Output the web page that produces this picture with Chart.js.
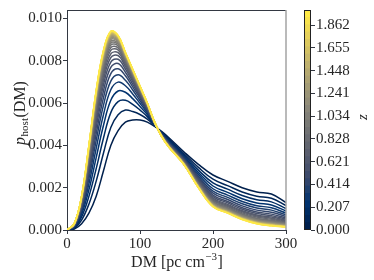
<!DOCTYPE html>
<html lang="en">
<head>
<meta charset="UTF-8">
<title>p_host(DM)</title>
<script src="https://cdn.jsdelivr.net/npm/chart.js"></script>
<style>
    body { margin: 0; background: #fff; }
    #wrap { position: relative; width: 374px; height: 280px; }
    #chart { position: absolute; left: 0; top: 0; }
    #cbar { position: absolute; left: 304px; top: 0; }
</style>
</head>
<body>
<div id="wrap">
    <canvas id="chart" width="374" height="280"></canvas>
    <canvas id="cbar" width="70" height="280"></canvas>
</div>
<script>
// DM grid (pc cm^-3) shared by every curve
const dmGrid = [0, 10, 20, 30, 40, 50, 60, 70, 80, 90, 100, 110, 120, 130, 140, 160, 180, 200, 220, 240, 260, 280, 300];

// redshift of each curve
const zValues = [0.000, 0.069, 0.138, 0.207, 0.276, 0.345, 0.414, 0.483, 0.552, 0.621,
                 0.690, 0.759, 0.828, 0.897, 0.966, 1.034, 1.103, 1.172, 1.241, 1.310,
                 1.379, 1.448, 1.517, 1.586, 1.655, 1.724, 1.793, 1.862, 1.931, 2.000];

// p_host(DM), one array per z
const p00 = [0, 0.00005, 0.0003, 0.0008, 0.0016, 0.0028, 0.0040, 0.0047, 0.0051, 0.0052, 0.0052, 0.0051, 0.0049, 0.00465, 0.00435, 0.0037, 0.0031, 0.0026, 0.0023, 0.0020, 0.0018, 0.0017, 0.0013];
const p01 = [0, 0.00008, 0.00047, 0.00122, 0.00231, 0.00364, 0.00485, 0.00545, 0.00567, 0.00560, 0.00546, 0.00524, 0.00493, 0.00461, 0.00429, 0.00362, 0.00296, 0.00240, 0.00210, 0.00180, 0.00160, 0.00150, 0.00115];
const p02 = [0, 0.00011, 0.00062, 0.00159, 0.00290, 0.00435, 0.00555, 0.00607, 0.00613, 0.00594, 0.00567, 0.00536, 0.00495, 0.00459, 0.00424, 0.00355, 0.00283, 0.00223, 0.00193, 0.00163, 0.00143, 0.00133, 0.00101];
const p03 = [0, 0.00014, 0.00075, 0.00190, 0.00342, 0.00495, 0.00613, 0.00657, 0.00651, 0.00621, 0.00584, 0.00546, 0.00497, 0.00456, 0.00419, 0.00349, 0.00272, 0.00208, 0.00178, 0.00148, 0.00128, 0.00118, 0.00090];
const p04 = [0, 0.00016, 0.00086, 0.00218, 0.00386, 0.00546, 0.00663, 0.00699, 0.00682, 0.00643, 0.00599, 0.00554, 0.00499, 0.00454, 0.00416, 0.00344, 0.00263, 0.00195, 0.00165, 0.00135, 0.00115, 0.00105, 0.00080];
const p05 = [0, 0.00018, 0.00096, 0.00243, 0.00424, 0.00590, 0.00704, 0.00734, 0.00708, 0.00662, 0.00611, 0.00561, 0.00500, 0.00452, 0.00412, 0.00340, 0.00254, 0.00184, 0.00154, 0.00124, 0.00104, 0.00094, 0.00071];
const p06 = [0, 0.00019, 0.00104, 0.00263, 0.00456, 0.00626, 0.00739, 0.00762, 0.00729, 0.00677, 0.00622, 0.00566, 0.00501, 0.00451, 0.00409, 0.00336, 0.00247, 0.00174, 0.00144, 0.00114, 0.00094, 0.00084, 0.00064];
const p07 = [0, 0.00021, 0.00112, 0.00282, 0.00485, 0.00658, 0.00769, 0.00787, 0.00746, 0.00690, 0.00630, 0.00572, 0.00503, 0.00449, 0.00407, 0.00332, 0.00241, 0.00165, 0.00135, 0.00105, 0.00085, 0.00075, 0.00057];
const p08 = [0, 0.00022, 0.00119, 0.00298, 0.00509, 0.00686, 0.00794, 0.00807, 0.00761, 0.00701, 0.00638, 0.00576, 0.00503, 0.00448, 0.00405, 0.00329, 0.00235, 0.00158, 0.00128, 0.00098, 0.00078, 0.00068, 0.00051];
const p09 = [0, 0.00023, 0.00124, 0.00312, 0.00530, 0.00709, 0.00815, 0.00824, 0.00773, 0.00710, 0.00644, 0.00579, 0.00505, 0.00447, 0.00402, 0.00327, 0.00230, 0.00151, 0.00121, 0.00091, 0.00071, 0.00061, 0.00046];
const p10 = [0, 0.00024, 0.00129, 0.00324, 0.00548, 0.00729, 0.00833, 0.00838, 0.00783, 0.00717, 0.00649, 0.00582, 0.00505, 0.00446, 0.00401, 0.00324, 0.00226, 0.00146, 0.00116, 0.00086, 0.00066, 0.00056, 0.00042];
const p11 = [0, 0.00025, 0.00133, 0.00334, 0.00564, 0.00746, 0.00849, 0.00851, 0.00792, 0.00724, 0.00654, 0.00585, 0.00506, 0.00445, 0.00399, 0.00322, 0.00223, 0.00141, 0.00111, 0.00081, 0.00061, 0.00051, 0.00038];
const p12 = [0, 0.00026, 0.00137, 0.00344, 0.00578, 0.00761, 0.00862, 0.00861, 0.00799, 0.00729, 0.00658, 0.00587, 0.00507, 0.00445, 0.00398, 0.00321, 0.00219, 0.00136, 0.00106, 0.00076, 0.00056, 0.00046, 0.00034];
const p13 = [0, 0.00026, 0.00140, 0.00352, 0.00590, 0.00774, 0.00874, 0.00870, 0.00806, 0.00734, 0.00661, 0.00589, 0.00507, 0.00444, 0.00397, 0.00319, 0.00217, 0.00133, 0.00103, 0.00073, 0.00053, 0.00043, 0.00032];
const p14 = [0, 0.00027, 0.00143, 0.00359, 0.00600, 0.00785, 0.00884, 0.00878, 0.00811, 0.00738, 0.00664, 0.00591, 0.00507, 0.00444, 0.00396, 0.00318, 0.00214, 0.00129, 0.00099, 0.00069, 0.00049, 0.00039, 0.00029];
const p15 = [0, 0.00027, 0.00146, 0.00365, 0.00609, 0.00795, 0.00892, 0.00884, 0.00816, 0.00741, 0.00666, 0.00592, 0.00508, 0.00442, 0.00394, 0.00317, 0.00212, 0.00127, 0.00097, 0.00067, 0.00047, 0.00037, 0.00027];
const p16 = [0, 0.00028, 0.00148, 0.00370, 0.00617, 0.00804, 0.00900, 0.00890, 0.00819, 0.00744, 0.00669, 0.00593, 0.00508, 0.00442, 0.00394, 0.00316, 0.00210, 0.00124, 0.00094, 0.00064, 0.00044, 0.00034, 0.00025];
const p17 = [0, 0.00028, 0.00150, 0.00375, 0.00623, 0.00811, 0.00906, 0.00895, 0.00823, 0.00747, 0.00670, 0.00594, 0.00508, 0.00442, 0.00393, 0.00315, 0.00209, 0.00122, 0.00092, 0.00062, 0.00042, 0.00032, 0.00023];
const p18 = [0, 0.00028, 0.00151, 0.00379, 0.00630, 0.00817, 0.00912, 0.00899, 0.00826, 0.00749, 0.00672, 0.00595, 0.00508, 0.00441, 0.00393, 0.00314, 0.00207, 0.00120, 0.00090, 0.00060, 0.00040, 0.00030, 0.00022];
const p19 = [0, 0.00029, 0.00153, 0.00382, 0.00635, 0.00823, 0.00917, 0.00903, 0.00828, 0.00751, 0.00673, 0.00596, 0.00508, 0.00441, 0.00392, 0.00313, 0.00206, 0.00118, 0.00088, 0.00058, 0.00038, 0.00028, 0.00020];
const p20 = [0, 0.00029, 0.00154, 0.00385, 0.00639, 0.00827, 0.00921, 0.00905, 0.00830, 0.00753, 0.00674, 0.00597, 0.00509, 0.00441, 0.00392, 0.00313, 0.00205, 0.00117, 0.00087, 0.00057, 0.00037, 0.00027, 0.00019];
const p21 = [0, 0.00029, 0.00155, 0.00388, 0.00643, 0.00831, 0.00924, 0.00908, 0.00832, 0.00754, 0.00675, 0.00597, 0.00509, 0.00441, 0.00392, 0.00312, 0.00204, 0.00116, 0.00086, 0.00056, 0.00036, 0.00026, 0.00018];
const p22 = [0, 0.00029, 0.00156, 0.00390, 0.00646, 0.00835, 0.00927, 0.00911, 0.00834, 0.00755, 0.00676, 0.00598, 0.00509, 0.00441, 0.00391, 0.00312, 0.00203, 0.00115, 0.00085, 0.00055, 0.00035, 0.00025, 0.00018];
const p23 = [0, 0.00029, 0.00157, 0.00392, 0.00649, 0.00838, 0.00930, 0.00912, 0.00835, 0.00756, 0.00677, 0.00598, 0.00509, 0.00440, 0.00391, 0.00311, 0.00203, 0.00114, 0.00084, 0.00054, 0.00034, 0.00024, 0.00017];
const p24 = [0, 0.00030, 0.00158, 0.00394, 0.00652, 0.00841, 0.00933, 0.00914, 0.00836, 0.00757, 0.00678, 0.00599, 0.00510, 0.00440, 0.00391, 0.00311, 0.00202, 0.00113, 0.00083, 0.00053, 0.00033, 0.00023, 0.00016];
const p25 = [0, 0.00030, 0.00158, 0.00396, 0.00654, 0.00843, 0.00934, 0.00916, 0.00837, 0.00758, 0.00678, 0.00599, 0.00510, 0.00440, 0.00391, 0.00311, 0.00202, 0.00112, 0.00082, 0.00052, 0.00032, 0.00022, 0.00016];
const p26 = [0, 0.00030, 0.00159, 0.00397, 0.00655, 0.00845, 0.00936, 0.00917, 0.00838, 0.00758, 0.00679, 0.00599, 0.00510, 0.00440, 0.00390, 0.00311, 0.00201, 0.00112, 0.00082, 0.00052, 0.00032, 0.00022, 0.00015];
const p27 = [0, 0.00030, 0.00159, 0.00398, 0.00657, 0.00847, 0.00938, 0.00918, 0.00839, 0.00759, 0.00679, 0.00600, 0.00510, 0.00440, 0.00390, 0.00310, 0.00201, 0.00111, 0.00081, 0.00051, 0.00031, 0.00021, 0.00015];
const p28 = [0, 0.00030, 0.00160, 0.00399, 0.00659, 0.00849, 0.00939, 0.00919, 0.00839, 0.00760, 0.00680, 0.00600, 0.00510, 0.00440, 0.00390, 0.00310, 0.00200, 0.00110, 0.00080, 0.00050, 0.00030, 0.00020, 0.00014];
const p29 = [0, 0.00030, 0.00160, 0.00400, 0.00660, 0.00850, 0.00940, 0.00920, 0.00840, 0.00760, 0.00680, 0.00600, 0.00510, 0.00440, 0.00390, 0.00310, 0.00200, 0.00110, 0.00080, 0.00050, 0.00030, 0.00020, 0.00014];

const curves = [p00, p01, p02, p03, p04, p05, p06, p07, p08, p09, p10, p11, p12, p13, p14,
                p15, p16, p17, p18, p19, p20, p21, p22, p23, p24, p25, p26, p27, p28, p29];

const xTicks = [0, 100, 200, 300];
const yTicks = [0, 0.002, 0.004, 0.006, 0.008, 0.010];
const zTicks = [0.000, 0.207, 0.414, 0.621, 0.828, 1.034, 1.241, 1.448, 1.655, 1.862];
const zMax = 2.0;

// cividis colormap
const cividisStops = ['#00204D', '#00336F', '#39486B', '#575C6D', '#707173',
                      '#8A8779', '#A69D75', '#C4B56C', '#E4CF5B', '#FFEA46'];
function hexRgb(h) {
    return [parseInt(h.slice(1, 3), 16), parseInt(h.slice(3, 5), 16), parseInt(h.slice(5, 7), 16)];
}
function cividis(t) {
    t = Math.min(1, Math.max(0, t));
    const s = t * (cividisStops.length - 1);
    const i = Math.min(Math.floor(s), cividisStops.length - 2);
    const f = s - i;
    const a = hexRgb(cividisStops[i]), b = hexRgb(cividisStops[i + 1]);
    const c = a.map((v, k) => Math.round(v + (b[k] - v) * f));
    return `rgb(${c[0]}, ${c[1]}, ${c[2]})`;
}

Chart.defaults.font.family = '"Liberation Serif", "Times New Roman", serif';
Chart.defaults.font.size = 15;
Chart.defaults.color = '#262626';

const SERIF = '"Liberation Serif", "Times New Roman", serif';
const AXIS = '#333842';

const datasets = curves.map((ys, i) => ({
    label: 'z = ' + zValues[i].toFixed(3),
    data: ys.map((y, k) => ({ x: dmGrid[k], y: y })),
    borderColor: cividis(zValues[i] / zMax),
    borderWidth: 1.5,
    pointRadius: 0,
    tension: 0.4,
    fill: false,
    order: curves.length - i
}));

const framePlugin = {
    id: 'frame',
    afterDraw(chart) {
        const { ctx, chartArea: a } = chart;
        ctx.save();
        ctx.lineWidth = 1;
        ctx.strokeStyle = AXIS;
        ctx.beginPath();
        ctx.moveTo(a.left, a.top + 0.5);
        ctx.lineTo(a.right, a.top + 0.5);
        ctx.stroke();
        ctx.strokeStyle = '#a3a3a3';
        ctx.lineWidth = 1.5;
        ctx.beginPath();
        ctx.moveTo(a.right, a.top);
        ctx.lineTo(a.right, a.bottom);
        ctx.stroke();

        // axis titles with sub/superscripts
        ctx.fillStyle = '#262626';
        ctx.textAlign = 'left';
        ctx.textBaseline = 'alphabetic';
        const big = '16px ' + SERIF, small = '11px ' + SERIF;

        ctx.font = big;
        const w1 = ctx.measureText('DM [pc cm').width;
        ctx.font = small;
        const w2 = ctx.measureText('\u22123').width;
        ctx.font = big;
        const w3 = ctx.measureText(']').width;
        let x0 = (a.left + a.right) / 2 - (w1 + w2 + w3) / 2;
        const yb = 267;
        ctx.fillText('DM [pc cm', x0, yb);
        ctx.font = small;
        ctx.fillText('\u22123', x0 + w1 + 0.5, yb - 7);
        ctx.font = big;
        ctx.fillText(']', x0 + w1 + w2 + 1, yb);

        ctx.translate(25, 113);
        ctx.rotate(-Math.PI / 2);
        ctx.font = 'italic 16px ' + SERIF;
        const v1 = ctx.measureText('p').width;
        ctx.font = small;
        const v2 = ctx.measureText('host').width;
        ctx.font = big;
        const v3 = ctx.measureText('(DM)').width;
        let s0 = -(v1 + v2 + v3 + 1) / 2;
        ctx.font = 'italic 16px ' + SERIF;
        ctx.fillText('p', s0, 0);
        ctx.font = small;
        ctx.fillText('host', s0 + v1 + 0.5, 3);
        ctx.font = big;
        ctx.fillText('(DM)', s0 + v1 + v2 + 1, 0);
        ctx.restore();
    }
};

new Chart(document.getElementById('chart'), {
    type: 'line',
    data: { datasets: datasets },
    options: {
        responsive: false,
        animation: false,
        layout: { padding: { top: 8, right: 88, left: 0, bottom: 0 } },
        plugins: { legend: { display: false }, tooltip: { enabled: false } },
        scales: {
            x: {
                type: 'linear',
                min: 0,
                max: 300,
                afterBuildTicks: s => { s.ticks = xTicks.map(v => ({ value: v })); },
                afterFit: s => { s.height = 50; },
                grid: { drawOnChartArea: false, drawTicks: true, tickLength: 4, color: AXIS },
                border: { color: AXIS, width: 1 },
                ticks: { padding: 1, maxRotation: 0, callback: v => String(v) }
            },
            y: {
                min: 0,
                max: 0.0104,
                afterBuildTicks: s => { s.ticks = yTicks.map(v => ({ value: v })); },
                afterFit: s => { s.width = 67; },
                grid: { drawOnChartArea: false, drawTicks: true, tickLength: 4, color: AXIS },
                border: { color: AXIS, width: 1 },
                ticks: { padding: 1, callback: v => Number(v).toFixed(3) }
            }
        }
    },
    plugins: [framePlugin]
});

// colorbar: one band per z curve
const nBands = zValues.length;
const cbSets = zValues.map((z, i) => ({
    data: [[i * zMax / nBands, (i + 1) * zMax / nBands]],
    backgroundColor: cividis(z / zMax),
    borderWidth: 0,
    barPercentage: 1,
    categoryPercentage: 1,
    grouped: false
}));

const cbPlugin = {
    id: 'cbframe',
    afterDraw(chart) {
        const { ctx, chartArea: a } = chart;
        ctx.save();
        ctx.strokeStyle = '#222';
        ctx.lineWidth = 1;
        ctx.strokeRect(a.left + 0.5, a.top + 0.5, a.right - a.left - 1, a.bottom - a.top - 1);
        ctx.fillStyle = '#262626';
        ctx.font = 'italic 15px ' + SERIF;
        ctx.textAlign = 'center';
        ctx.textBaseline = 'middle';
        ctx.translate(59, 117);
        ctx.rotate(-Math.PI / 2);
        ctx.fillText('z', 0, 0);
        ctx.restore();
    }
};

new Chart(document.getElementById('cbar'), {
    type: 'bar',
    data: { labels: [''], datasets: cbSets },
    options: {
        responsive: false,
        animation: false,
        layout: { padding: { top: 8, bottom: 50, left: 0, right: 0 } },
        plugins: { legend: { display: false }, tooltip: { enabled: false } },
        scales: {
            x: { display: false },
            y: {
                position: 'right',
                min: 0,
                max: zMax,
                afterBuildTicks: s => { s.ticks = zTicks.map(v => ({ value: v })); },
                afterFit: s => { s.width = 63; },
                grid: { drawOnChartArea: false, drawTicks: true, tickLength: 4, color: AXIS },
                border: { display: false },
                ticks: { padding: 1, callback: v => Number(v).toFixed(3) }
            }
        }
    },
    plugins: [cbPlugin]
});
</script>
</body>
</html>
